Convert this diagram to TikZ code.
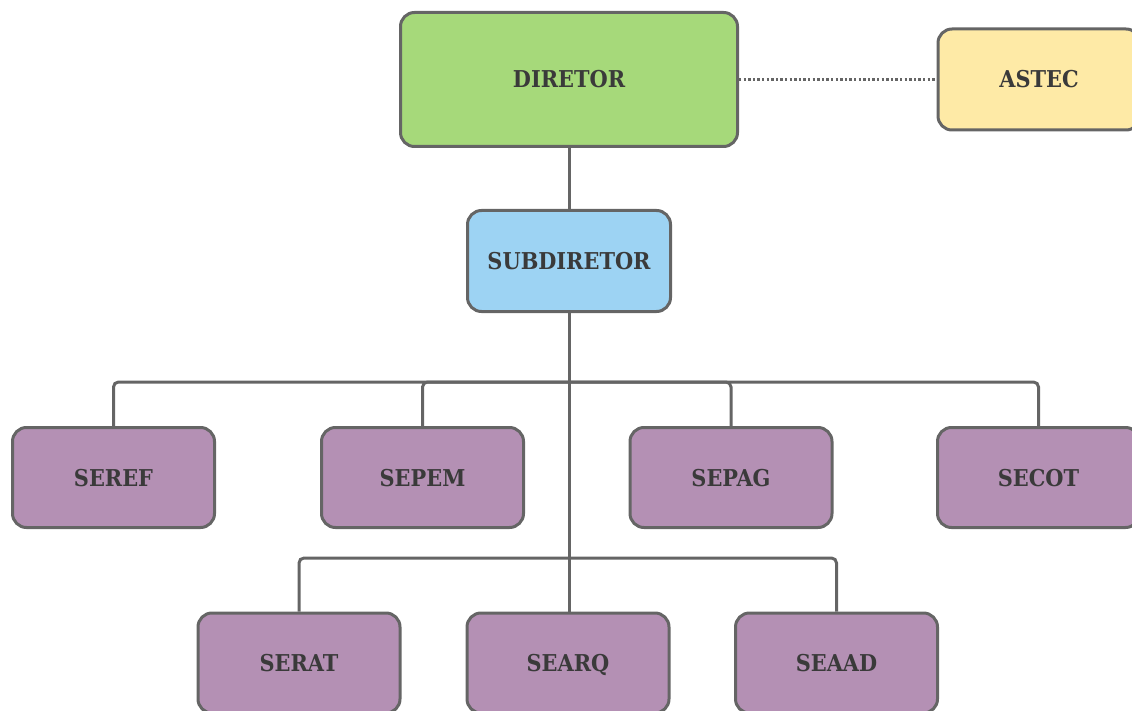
\documentclass[tikz,border=0pt]{standalone}
\usepackage{fontspec}
\setmainfont{DejaVu Serif Condensed}
\begin{document}
\begin{tikzpicture}[x=1pt,y=-1pt,
  box/.style={draw=boxline, line width=3pt, rounded corners=14pt, inner sep=0pt,
    font=\fontsize{23.2}{27}\selectfont\bfseries, text=txt, text height=17pt, text depth=0pt},
  wide/.style={box, minimum width=337pt, minimum height=134pt},
  unit/.style={box, minimum width=202pt, minimum height=100pt, fill=purp},
  conn/.style={draw=boxline, line width=3pt, rounded corners=5pt},
  dotconn/.style={draw=boxline, line width=2.6pt, dash pattern=on 2.4pt off 2.2pt}
]
\definecolor{boxline}{HTML}{656565}
\definecolor{txt}{HTML}{3A3A3A}
\definecolor{grn}{HTML}{A6D97A}
\definecolor{ylw}{HTML}{FEEAA6}
\definecolor{blu}{HTML}{9DD3F3}
\definecolor{purp}{HTML}{B490B4}
\useasboundingbox (0,0) rectangle (1132,711);
\clip (0,0) rectangle (1132,711);
\node[wide, fill=grn] (dir) at (569,79.5) {DIRETOR};
\node[box, fill=ylw, minimum width=202pt, minimum height=101pt] (astec) at (1039,79.5) {ASTEC};
\node[box, fill=blu, minimum width=203pt, minimum height=101pt] (sub) at (569,261) {SUBDIRETOR};
\node[unit] (seref) at (113.5,477.5) {SEREF};
\node[unit] (sepem) at (422.5,477.5) {SEPEM};
\node[unit] (sepag) at (731,477.5) {SEPAG};
\node[unit] (secot) at (1038.5,477.5) {SECOT};
\node[unit] (serat) at (299,663) {SERAT};
\node[unit] (searq) at (568,663) {SEARQ};
\node[unit] (seaad) at (836.5,663) {SEAAD};
\coordinate (bus1) at (569,382);
\coordinate (bus2) at (569,558);
\draw[dotconn] (dir.east) -- (astec.west);
\draw[conn] (dir.south) -- (sub.north);
\draw[conn] (sub.south) -- (sub.south |- searq.north);
\draw[conn] (seref.north) |- (bus1);
\draw[conn] (sepem.north) |- (bus1);
\draw[conn] (sepag.north) |- (bus1);
\draw[conn] (secot.north) |- (bus1);
\draw[conn] (serat.north) |- (bus2);
\draw[conn] (seaad.north) |- (bus2);
\end{tikzpicture}
\end{document}
